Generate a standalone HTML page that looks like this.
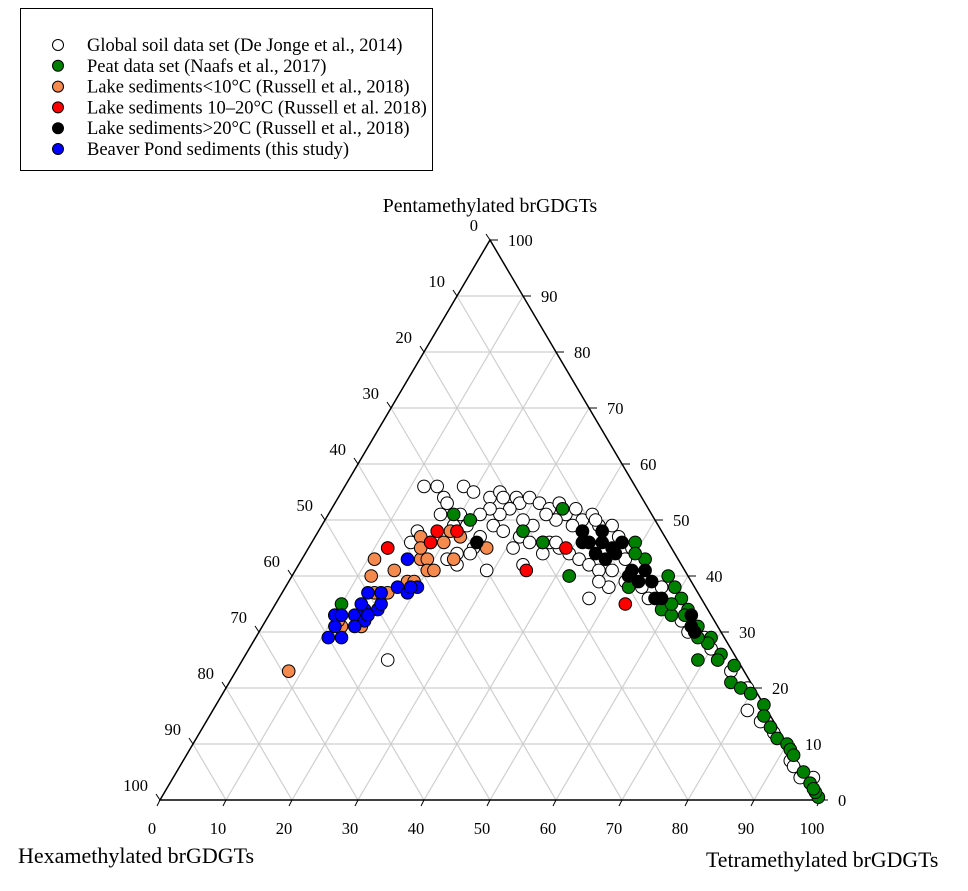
<!DOCTYPE html>
<html><head><meta charset="utf-8"><style>
html,body{margin:0;padding:0;background:#fff;}
svg{display:block;font-family:"Liberation Serif",serif;}
</style></head><body>
<svg id="chart" width="968" height="891" viewBox="0 0 968 891">
<g id="legend"></g>
<g id="grid"></g>
<g id="axes"></g>
<g id="pts"></g>
<text x="490" y="212" font-size="19.8" text-anchor="middle">Pentamethylated brGDGTs</text>
<text x="18" y="863" font-size="22">Hexamethylated brGDGTs</text>
<text x="706" y="867" font-size="21.8">Tetramethylated brGDGTs</text>
</svg>
<script>
// [tetra %, penta %]
const soil=[[12,56],[14,56],[16,54],[18,56],[20,55],[23,54],[24,55],[25,54],[27,54],[28,53],[29,54],[31,53],[33,52],[34,53],[36,51],[37,52],[39,50],[40,51],[42,49],[44,49],[46,47],[45,45],[41,50],[40,48],[38,49],[35,50],[33,51],[32,49],[30,50],[27,52],[26,51],[24,52],[23,51],[22,50],[20,51],[17,53],[17,51],[20,49],[22,49],[25,47],[26,49],[28,48],[31,47],[33,46],[35,46],[36,46],[38,45],[40,44],[42,43],[44,42],[46,41],[48,41],[51,39],[54,38],[56,36],[57,38],[60,34],[63,32],[65,30],[68,29],[70,27],[72,25],[75,23],[79,20],[81,16],[84,14],[87,12],[92,7],[93,6],[95,4],[97,4],[25,45],[23,44],[22,43],[24,42],[25,44],[29,41],[34,42],[36,44],[47,36],[31,45],[15,46],[15,48],[12,45],[22,25],[49,43],[49,45],[49,38],[47,39],[42,40],[37,46]];
const peat=[[10,35],[19,51],[22,50],[31,48],[35,46],[35,52],[35,46],[42,40],[49,46],[52,43],[50,44],[57,40],[59,38],[61,36],[63,34],[59,34],[61,33],[66,31],[69,29],[69,28],[72,26],[69,25],[72,25],[76,21],[78,20],[80,19],[83,17],[84,15],[86,13],[88,11],[90,10],[91,9],[95,5],[97,3],[99.5,0.5],[52,38],[67,29],[98.6,1.4],[98,2],[60,35],[63,33],[75,24],[92,8]];
const lakeCold=[[8,23],[10,33],[12,31],[15,31],[11,43],[12,40],[15,41],[16,37],[18,39],[19,39],[18,43],[19,43],[20,41],[21,41],[16,47],[18,46],[20,46],[20,48],[22,47],[23,43],[27,45],[17,45],[14,37],[11,32]];
const lakeMid=[[12,45],[18,48],[21,48],[18,46],[35,41],[39,45],[42,46],[53,35]];
const lakeWarm=[[25,46],[40,48],[42,46],[44,46],[46,45],[44,44],[46,43],[47,44],[47,46],[43,48],[41,46],[51,40],[53,39],[55,39],[51,41],[53,41],[57,36],[58,36],[64,33],[66,30],[65,31]];
const beaver=[[11,29],[13,29],[11,31],[10,33],[13,33],[15,32],[14,34],[16,34],[16,35],[15,33],[15,37],[13,37],[16,43],[17,38],[19,37],[20,38],[14,31],[11,33],[13,35],[19,38]];
const ticks=[0,10,20,30,40,50,60,70,80,90,100];
const legendLabels=["Global soil data set (De Jonge et al., 2014)","Peat data set (Naafs et al., 2017)","Lake sediments<10°C (Russell et al., 2018)","Lake sediments 10\u201320°C (Russell et al. 2018)","Lake sediments>20°C (Russell et al., 2018)","Beaver Pond sediments (this study)"];

const NS="http://www.w3.org/2000/svg";
const X0=160,X1=820,Y0=800,YT=240,W=X1-X0,H=Y0-YT;
function px(t,p){return X0+W*(t/100+p/200);}
function py(t,p){return Y0-H*p/100;}
function mk(tag,attrs,parent){const e=document.createElementNS(NS,tag);for(const k in attrs)e.setAttribute(k,attrs[k]);parent.appendChild(e);return e;}
const grid=document.getElementById('grid'),axes=document.getElementById('axes'),pts=document.getElementById('pts'),leg=document.getElementById('legend');

ticks.slice(1,-1).forEach(v=>{
  let l=mk('line',{x1:px(0,v),y1:py(0,v),x2:px(100-v,v),y2:py(100-v,v),stroke:'#cfcfcf','stroke-width':1.2},grid);
  
  
  l=mk('line',{x1:px(v,0),y1:py(v,0),x2:px(v,100-v),y2:py(v,100-v),stroke:'#cfcfcf','stroke-width':1.2},grid);
  
  
  l=mk('line',{x1:px(100-v,0),y1:py(100-v,0),x2:px(0,100-v),y2:py(0,100-v),stroke:'#cfcfcf','stroke-width':1.2},grid);
  
  
});
const tri=mk('polygon',{points:`${px(0,0)},${py(0,0)} ${px(100,0)},${py(100,0)} ${px(0,100)},${py(0,100)}`,fill:'none',stroke:'#000','stroke-width':1.5},axes);


ticks.forEach(v=>{
  let x=px(v,0),y=py(v,0);
  mk('line',{x1:x,y1:y,x2:x-3,y2:y+6,stroke:'#000'},axes);
  let t=mk('text',{x:x-8,y:y+34,'font-size':16.5,'text-anchor':'middle'},axes);t.textContent=v;
  
  
  x=px(100-v,v);y=py(100-v,v);
  mk('line',{x1:x,y1:y,x2:x+8,y2:y,stroke:'#000'},axes);
  t=mk('text',{x:x+18,y:y+6,'font-size':16.5},axes);t.textContent=v;
  
  
  x=px(0,100-v);y=py(0,100-v);
  mk('line',{x1:x,y1:y,x2:x-4,y2:y-6,stroke:'#000'},axes);
  t=mk('text',{x:x-12,y:y-9,'font-size':16.5,'text-anchor':'end'},axes);t.textContent=v;
  
  
});
const series=[[soil,'#ffffff','soil'],[peat,'#008000','peat'],[lakeCold,'#f58a4e','lake-cold'],[lakeMid,'#ff0000','lake-mid'],[lakeWarm,'#000000','lake-warm'],[beaver,'#0000ff','beaver-pond']];
series.forEach(([d,c,n])=>{d.forEach(([t,p])=>{
  const c1=mk('circle',{cx:px(t,p),cy:py(t,p),r:6.3,fill:c,stroke:'#000','stroke-width':1},pts);
  
  
});});
const box=mk('rect',{x:20.5,y:8.5,width:412,height:162,fill:'#fff',stroke:'#000','stroke-width':1},leg);


legendLabels.forEach((lab,i)=>{
  const y=45+i*20.8;
  const c=mk('circle',{cx:58,cy:y,r:5.5,fill:series[i][1],stroke:'#000','stroke-width':1},leg);
  
  
  const t=mk('text',{x:87,y:y+6,'font-size':18.5},leg);t.textContent=lab;
  
  
});
</script>
</body></html>
